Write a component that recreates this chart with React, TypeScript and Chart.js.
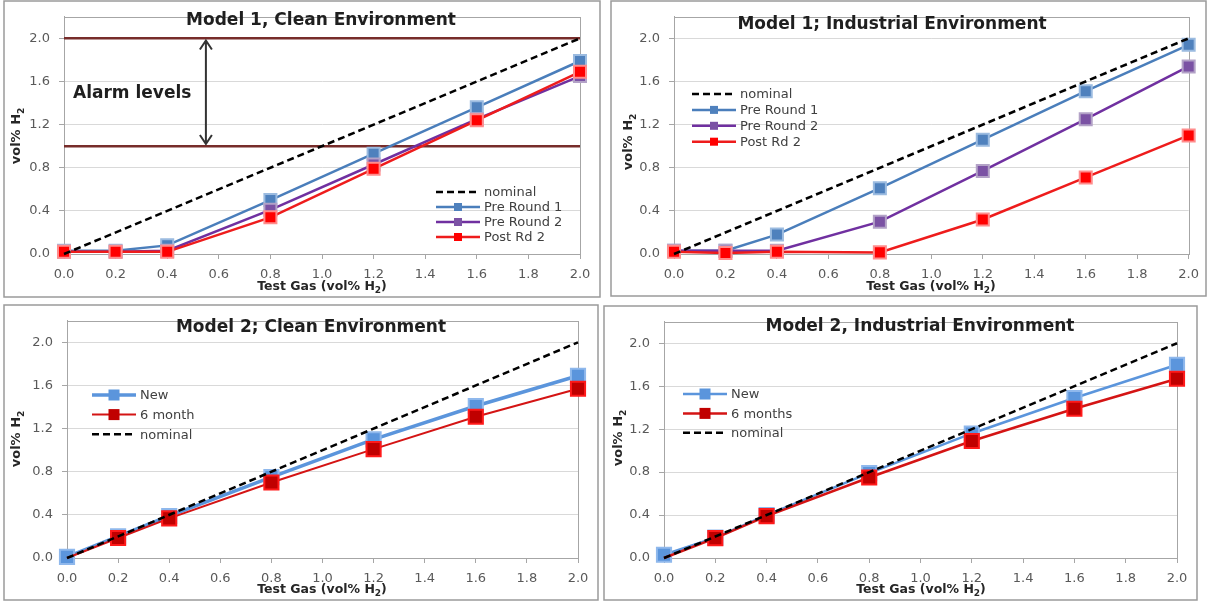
import React, { useEffect, useRef } from "react";
import { Chart, registerables } from "chart.js";

Chart.register(...registerables);

const FONT = "'DejaVu Sans', 'Liberation Sans', sans-serif";

// ---------------- data ----------------
const testGas = [0, 0.2, 0.4, 0.8, 1.2, 1.6, 2.0];
const nominalX = [0, 2.0];
const nominalY = [0, 2.0];
const xTickValues = [0, 0.2, 0.4, 0.6, 0.8, 1.0, 1.2, 1.4, 1.6, 1.8, 2.0];
const yTickValues = [0, 0.4, 0.8, 1.2, 1.6, 2.0];
const yAxisMax = 2.2;

// Model 1, clean environment
const m1CleanPreRound1 = [0.03, 0.03, 0.08, 0.5, 0.93, 1.36, 1.79];
const m1CleanPreRound2 = [0.02, 0.02, 0.03, 0.41, 0.83, 1.25, 1.65];
const m1CleanPostRd2 = [0.02, 0.02, 0.02, 0.34, 0.79, 1.24, 1.69];

// Model 1, industrial environment
const m1IndPreRound1 = [0.03, 0.03, 0.18, 0.61, 1.06, 1.51, 1.94];
const m1IndPreRound2 = [0.03, 0.03, 0.03, 0.3, 0.77, 1.25, 1.74];
const m1IndPostRd2 = [0.02, 0.01, 0.02, 0.015, 0.32, 0.71, 1.1];

// Model 2, clean environment
const m2CleanNew = [0.01, 0.2, 0.39, 0.75, 1.1, 1.41, 1.69];
const m2Clean6Month = [0.0, 0.185, 0.367, 0.7, 1.01, 1.31, 1.57];

// Model 2, industrial environment
const m2IndNew = [0.03, 0.19, 0.4, 0.79, 1.16, 1.49, 1.8];
const m2Ind6Months = [0.0, 0.185, 0.39, 0.75, 1.09, 1.39, 1.67];

// Alarm annotation (Model 1 clean)
const alarmLevels = [1.0, 2.0];
const alarmArrowX = 0.55;
const alarmArrowRange = [1.98, 1.02];
const alarmText = "Alarm levels";

const titles = [
  "Model 1, Clean Environment",
  "Model 1; Industrial Environment",
  "Model 2; Clean Environment",
  "Model 2, Industrial Environment",
];
const m1Legend = ["nominal", "Pre Round 1", "Pre Round 2", "Post Rd 2"];
const m2CleanLegend = ["New", "6 month", "nominal"];
const m2IndLegend = ["New", "6 months", "nominal"];

// ---------------- styles ----------------
const STY = {
  blue1: { line: "#4a7ebb", fill: "#4f81bd", edge: "#9bbbe0" },
  purple: { line: "#7030a0", fill: "#7b52a4", edge: "#b3a2c7" },
  red1: { line: "#ee1c1c", fill: "#ff0000", edge: "#ff8c8c" },
  blue2: { line: "#5b95dc", fill: "#5b95dc", edge: "#8fb8ec" },
  red2: { line: "#d41414", fill: "#c00000", edge: "#ff1a1a" },
};

const pts = (xs: number[], ys: number[]) => xs.map((x, i) => ({ x, y: ys[i] }));

function series(label: string, ys: number[], sty: any, width: number, radius: number, firstHidden = false) {
  const radii = ys.map((_, i) => (firstHidden && i === 0 ? 0 : radius));
  return {
    label,
    data: pts(testGas, ys),
    borderColor: sty.line,
    backgroundColor: sty.fill,
    borderWidth: width,
    pointStyle: "rect",
    pointRadius: radii,
    pointHoverRadius: radii,
    pointBackgroundColor: sty.fill,
    pointBorderColor: sty.edge,
    pointBorderWidth: 2,
    tension: 0,
    fill: false,
    clip: false,
  };
}

function nominal() {
  return {
    label: "nominal",
    data: pts(nominalX, nominalY),
    borderColor: "#000000",
    backgroundColor: "#000000",
    borderWidth: 2.5,
    borderDash: [7, 4],
    pointRadius: 0,
    pointHoverRadius: 0,
    tension: 0,
    fill: false,
    clip: false,
  };
}

type PanelCfg = {
  left: number;
  top: number;
  w: number;
  h: number;
  plot: { l: number; t: number; r: number; b: number };
  title: string;
  titlePos: [number, number];
  yTitlePos: [number, number];
  xTitlePos: [number, number];
  datasets: () => any[];
  legend: { order: string[]; x0: number; x1: number; y: number; dy: number; ms: number };
  alarm?: boolean;
  alarmTextPos?: [number, number];
};

const panels: PanelCfg[] = [
  {
    left: 3, top: 0, w: 598, h: 298,
    plot: { l: 61, t: 8, r: 577, b: 254 },
    title: titles[0], titlePos: [318, 20], yTitlePos: [14, 136], xTitlePos: [319, 287],
    datasets: () => [
      nominal(),
      series("Post Rd 2", m1CleanPostRd2, STY.red1, 2.5, 8.5),
      series("Pre Round 2", m1CleanPreRound2, STY.purple, 2.5, 8.5),
      series("Pre Round 1", m1CleanPreRound1, STY.blue1, 2.5, 8.5),
    ],
    legend: { order: m1Legend, x0: 433, x1: 477, y: 192, dy: 15, ms: 8 },
    alarm: true,
    alarmTextPos: [70, 93],
  },
  {
    left: 610, top: 0, w: 597, h: 297,
    plot: { l: 64, t: 8, r: 579, b: 254 },
    title: titles[1], titlePos: [282, 24], yTitlePos: [19, 142], xTitlePos: [321, 287],
    datasets: () => [
      nominal(),
      series("Post Rd 2", m1IndPostRd2, STY.red1, 2.5, 8.5),
      series("Pre Round 2", m1IndPreRound2, STY.purple, 2.5, 8.5),
      series("Pre Round 1", m1IndPreRound1, STY.blue1, 2.5, 8.5),
    ],
    legend: { order: m1Legend, x0: 82, x1: 126, y: 94, dy: 15.9, ms: 8 },
  },
  {
    left: 3, top: 304, w: 596, h: 297,
    plot: { l: 64, t: 8, r: 575, b: 254 },
    title: titles[2], titlePos: [308, 23], yTitlePos: [14, 135], xTitlePos: [319, 286],
    datasets: () => [
      nominal(),
      series("6 month", m2Clean6Month, STY.red2, 2, 10, true),
      series("New", m2CleanNew, STY.blue2, 3.5, 10),
    ],
    legend: { order: m2CleanLegend, x0: 89, x1: 133, y: 91, dy: 19.6, ms: 11 },
  },
  {
    left: 603, top: 305, w: 595, h: 296,
    plot: { l: 61, t: 8, r: 574, b: 253 },
    title: titles[3], titlePos: [317, 21], yTitlePos: [16, 133], xTitlePos: [318, 285],
    datasets: () => [
      nominal(),
      series("6 months", m2Ind6Months, STY.red2, 2.5, 10, true),
      series("New", m2IndNew, STY.blue2, 2.5, 10),
    ],
    legend: { order: m2IndLegend, x0: 80, x1: 124, y: 89, dy: 19.4, ms: 11 },
  },
];

// text with subscript, centred at (cx, cy)
function drawSubText(ctx: CanvasRenderingContext2D, main: string, sub: string, tail: string, cx: number, cy: number, size: number) {
  const big = `bold ${size}px ${FONT}`;
  const small = `bold ${Math.round(size * 0.68)}px ${FONT}`;
  ctx.font = big;
  const w1 = ctx.measureText(main).width;
  const w3 = ctx.measureText(tail).width;
  ctx.font = small;
  const w2 = ctx.measureText(sub).width;
  let x = cx - (w1 + w2 + w3) / 2;
  ctx.textAlign = "left";
  ctx.textBaseline = "middle";
  ctx.font = big;
  ctx.fillText(main, x, cy);
  x += w1;
  ctx.font = small;
  ctx.fillText(sub, x, cy + size * 0.32);
  x += w2;
  ctx.font = big;
  ctx.fillText(tail, x, cy);
}

function makeDecor(p: PanelCfg) {
  return {
    id: "decor",
    beforeDraw(chart: any) {
      const ctx = chart.ctx as CanvasRenderingContext2D;
      ctx.save();
      ctx.fillStyle = "#ffffff";
      ctx.fillRect(0, 0, chart.width, chart.height);
      ctx.strokeStyle = "#9a9a9a";
      ctx.lineWidth = 1.5;
      ctx.strokeRect(1, 1, chart.width - 2, chart.height - 2);
      ctx.restore();
    },
    beforeDatasetsDraw(chart: any) {
      const ctx = chart.ctx as CanvasRenderingContext2D;
      const a = chart.chartArea;
      ctx.save();
      ctx.strokeStyle = "#a6a6a6";
      ctx.lineWidth = 1;
      ctx.strokeRect(Math.round(a.left) + 0.5, Math.round(a.top) + 0.5, Math.round(a.right - a.left), Math.round(a.bottom - a.top));
      if (p.alarm) {
        const ys = chart.scales.y;
        ctx.strokeStyle = "#772c2a";
        ctx.lineWidth = 2.5;
        for (const lv of alarmLevels) {
          const y = ys.getPixelForValue(lv);
          ctx.beginPath();
          ctx.moveTo(a.left, y);
          ctx.lineTo(a.right, y);
          ctx.stroke();
        }
      }
      ctx.restore();
    },
    afterDraw(chart: any) {
      const ctx = chart.ctx as CanvasRenderingContext2D;
      ctx.save();
      // title
      ctx.fillStyle = "#1f1f1f";
      ctx.font = `bold 17px ${FONT}`;
      ctx.textAlign = "center";
      ctx.textBaseline = "middle";
      ctx.fillText(p.title, p.titlePos[0], p.titlePos[1] + 1);
      // axis titles
      ctx.fillStyle = "#262626";
      drawSubText(ctx, "Test Gas (vol% H", "2", ")", p.xTitlePos[0], p.xTitlePos[1], 12.5);
      ctx.save();
      ctx.translate(p.yTitlePos[0], p.yTitlePos[1]);
      ctx.rotate(-Math.PI / 2);
      drawSubText(ctx, "vol% H", "2", "", 0, 0, 13);
      ctx.restore();
      // alarm annotation
      if (p.alarm && p.alarmTextPos) {
        const xs = chart.scales.x;
        const ys = chart.scales.y;
        const x = xs.getPixelForValue(alarmArrowX);
        const y1 = ys.getPixelForValue(alarmArrowRange[0]);
        const y2 = ys.getPixelForValue(alarmArrowRange[1]);
        ctx.strokeStyle = "#333333";
        ctx.lineWidth = 2;
        ctx.beginPath();
        ctx.moveTo(x, y1);
        ctx.lineTo(x, y2);
        ctx.moveTo(x - 6, y1 + 9);
        ctx.lineTo(x, y1);
        ctx.lineTo(x + 6, y1 + 9);
        ctx.moveTo(x - 6, y2 - 9);
        ctx.lineTo(x, y2);
        ctx.lineTo(x + 6, y2 - 9);
        ctx.stroke();
        ctx.fillStyle = "#1f1f1f";
        ctx.font = `bold 17px ${FONT}`;
        ctx.textAlign = "left";
        ctx.textBaseline = "middle";
        ctx.fillText(alarmText, p.alarmTextPos[0], p.alarmTextPos[1] + 1);
      }
      // legend
      const lg = p.legend;
      lg.order.forEach((label, i) => {
        const ds = chart.data.datasets.find((d: any) => d.label === label);
        if (!ds) return;
        const y = lg.y + i * lg.dy;
        ctx.strokeStyle = ds.borderColor;
        ctx.lineWidth = ds.borderWidth;
        ctx.setLineDash(ds.borderDash || []);
        ctx.beginPath();
        ctx.moveTo(lg.x0, y);
        ctx.lineTo(lg.x1, y);
        ctx.stroke();
        ctx.setLineDash([]);
        const hasMarker = Array.isArray(ds.pointRadius) ? ds.pointRadius.some((r: number) => r > 0) : ds.pointRadius > 0;
        if (hasMarker) {
          const cx = (lg.x0 + lg.x1) / 2;
          ctx.fillStyle = ds.pointBackgroundColor;
          ctx.fillRect(cx - lg.ms / 2, y - lg.ms / 2, lg.ms, lg.ms);
        }
        ctx.fillStyle = "#404040";
        ctx.font = `13px ${FONT}`;
        ctx.textAlign = "left";
        ctx.textBaseline = "middle";
        ctx.fillText(label, lg.x1 + 4, y + 1);
      });
      ctx.restore();
    },
  };
}

function Panel({ cfg }: { cfg: PanelCfg }) {
  const ref = useRef<HTMLCanvasElement | null>(null);
  useEffect(() => {
    if (!ref.current) return;
    const p = cfg;
    const tickFont = { family: FONT, size: 13 };
    const chart = new Chart(ref.current, {
      type: "line",
      data: { datasets: p.datasets() },
      options: {
        responsive: false,
        animation: false,
        events: [],
        clip: false,
        layout: {
          autoPadding: false,
          padding: { left: p.plot.l - 40, top: p.plot.t, right: p.w - p.plot.r, bottom: p.h - p.plot.b - 30 },
        },
        plugins: { legend: { display: false }, tooltip: { enabled: false }, title: { display: false } },
        scales: {
          x: {
            type: "linear",
            min: 0,
            max: 2,
            afterBuildTicks: (s: any) => {
              s.ticks = xTickValues.map((v) => ({ value: v }));
            },
            afterFit: (s: any) => {
              s.height = 30;
            },
            ticks: {
              callback: (v: any) => Number(v).toFixed(1),
              font: tickFont,
              color: "#595959",
              padding: 8,
              maxRotation: 0,
              autoSkip: false,
            },
            grid: { display: true, drawOnChartArea: false, drawTicks: true, tickLength: 5, tickColor: "#a6a6a6", color: "#a6a6a6" },
            border: { display: true, color: "#a6a6a6" },
          },
          y: {
            type: "linear",
            min: 0,
            max: yAxisMax,
            afterBuildTicks: (s: any) => {
              s.ticks = yTickValues.map((v) => ({ value: v }));
            },
            afterFit: (s: any) => {
              s.width = 40;
            },
            ticks: {
              callback: (v: any) => Number(v).toFixed(1),
              font: tickFont,
              color: "#595959",
              padding: 9,
              autoSkip: false,
            },
            grid: { color: "#d9d9d9", drawTicks: true, tickLength: 5, tickColor: "#a6a6a6" },
            border: { display: true, color: "#a6a6a6" },
          },
        },
      } as any,
      plugins: [makeDecor(p)],
    });
    return () => chart.destroy();
  }, [cfg]);
  return (
    <canvas
      ref={ref}
      width={cfg.w}
      height={cfg.h}
      style={{ position: "absolute", left: cfg.left, top: cfg.top, width: cfg.w, height: cfg.h }}
    />
  );
}

export default function App() {
  return (
    <div style={{ position: "absolute", left: 0, top: 0, width: 1208, height: 604, background: "#ffffff" }}>
      {panels.map((p, i) => (
        <Panel key={i} cfg={p} />
      ))}
    </div>
  );
}
